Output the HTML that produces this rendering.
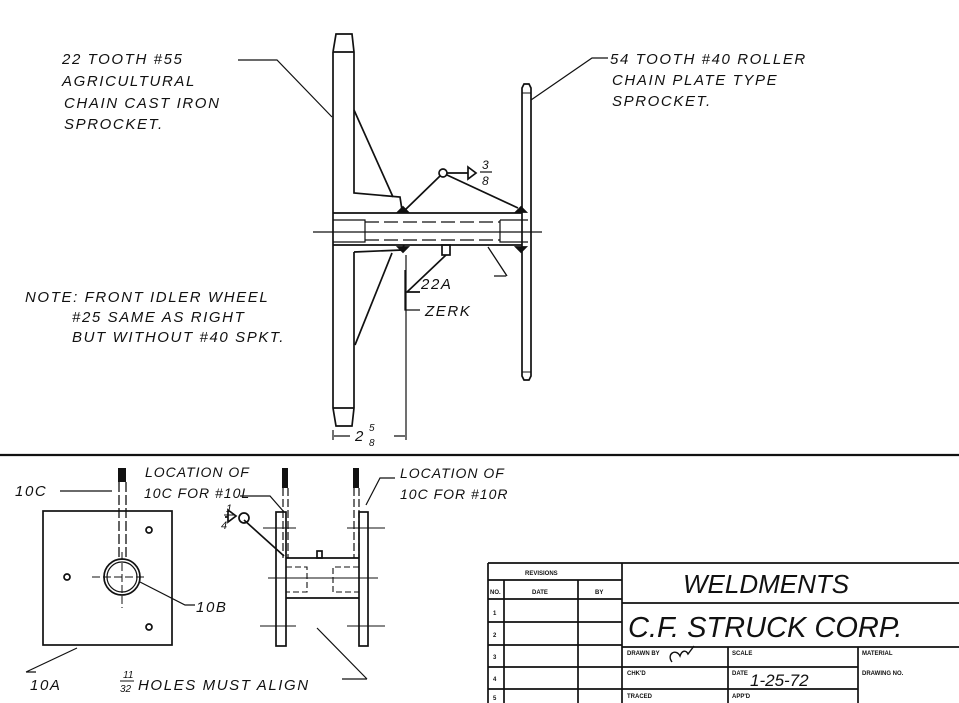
<!DOCTYPE html>
<html><head><meta charset="utf-8"><style>
html,body{margin:0;padding:0;background:#fff;}
svg{display:block;}
text{font-family:"Liberation Sans",sans-serif;font-style:italic;fill:#111;stroke:none;}
.t{font-size:15px;letter-spacing:1.6px;}
.u{font-size:14px;letter-spacing:1px;}
.s{font-size:6px;font-style:normal;font-weight:bold;}
</style></head><body>
<svg width="959" height="703" viewBox="0 0 959 703" xmlns="http://www.w3.org/2000/svg" stroke="#111" fill="none" stroke-width="1.7">
<path d="M333 52 L336 34 L352 34 L354 52 L354 110 M333 52 L333 408 L336 426 L352 426 L354 408 L354 252"/>
<path d="M333 52 H354 M333 408 H354"/>
<path d="M354 110 L354 193 L400 197 L402 210"/>
<path d="M354 110 L393 197"/>
<path d="M354 252 L402 250 L404 245"/>
<path d="M355 345 L392 253"/>
<path d="M333 213 H522 M333 245 H522"/>
<path d="M333 220 H365 V242 H333" stroke-width="1.2"/>
<path d="M500 220 H528 M500 220 V242 H528" stroke-width="1.2"/>
<path d="M365 222 H500 M365 240 H500" stroke-dasharray="14 5" stroke-width="1.2"/>
<path d="M313 232 H542" stroke-width="1.2"/>
<path d="M522 88 L524 84 L529 84 L531 88 V376 L529 380 L524 380 L522 376 Z"/>
<path d="M522 93 H531 M522 372 H531" stroke-width="1"/>
<circle cx="443" cy="173" r="4"/>
<path d="M440 176 L405 210 M447 175 L518 208 M447 173 H468 M468 167 L476 173 L468 179 Z"/>
<path d="M398 212 l5 -5 l5 5 z M516 212 l5 -5 l5 5 z M398 247 l5 5 l5 -5z M516 247 l5 5 l5 -5z" fill="#111"/>
<text x="482" y="169" style="font-size:12px">3</text><path d="M480 172 H492" stroke-width="1.2"/><text x="482" y="185" style="font-size:12px">8</text>
<rect x="442" y="245" width="8" height="10"/>
<path d="M446 255 L407 292 L420 292"/>
<path d="M488 247 L507 276 M494 276 H506" stroke-width="1.3"/>
<text class="t" x="421" y="289">22A</text>
<text class="t" x="425" y="316">ZERK</text>
<path d="M405 270 L405 310 L420 310" stroke-width="1.3"/>
<path d="M406 255 V440 M333 430 V440 M334 436 H350 M394 436 H405" stroke-width="1.2"/>
<text x="355" y="441" style="font-size:15px">2</text><text x="369" y="431" style="font-size:10px">5</text><text x="369" y="446" style="font-size:10px">8</text>
<path d="M238 60 H277 L332 117 M608 58 H592 L531 100" stroke-width="1.2"/>
<text class="t" x="62" y="64">22 TOOTH #55</text>
<text class="t" x="62" y="86">AGRICULTURAL</text>
<text class="t" x="64" y="108">CHAIN CAST IRON</text>
<text class="t" x="64" y="129">SPROCKET.</text>
<text class="t" x="610" y="64">54 TOOTH #40 ROLLER</text>
<text class="t" x="612" y="85">CHAIN PLATE TYPE</text>
<text class="t" x="612" y="106">SPROCKET.</text>
<text class="t" x="25" y="302">NOTE: FRONT IDLER WHEEL</text>
<text class="t" x="72" y="322">#25 SAME AS RIGHT</text>
<text class="t" x="72" y="342">BUT WITHOUT #40 SPKT.</text>
<path d="M0 455 H959" stroke-width="2.2"/>
<rect x="43" y="511" width="129" height="134"/>
<rect x="118" y="468" width="8" height="14" fill="#111" stroke="none"/>
<path d="M119 482 V560 M126 482 V560" stroke-width="1.3" stroke-dasharray="10 3"/>
<circle cx="122" cy="577" r="18"/><circle cx="122" cy="577" r="15" stroke-width="1.2"/>
<path d="M92 577 H146 M122 552 V608" stroke-dasharray="8 3" stroke-width="1"/>
<circle cx="67" cy="577" r="3"/><circle cx="149" cy="530" r="3"/><circle cx="149" cy="627" r="3"/>
<path d="M60 491 H112 M140 582 L185 605 H195 M26 672 L77 648 M26 672 H36" stroke-width="1.2"/>
<text class="t" x="15" y="496">10C</text>
<text class="t" x="196" y="612">10B</text>
<text class="t" x="30" y="690">10A</text>
<rect x="276" y="512" width="10" height="134"/><rect x="359" y="512" width="9" height="134"/>
<rect x="282" y="468" width="6" height="20" fill="#111" stroke="none"/><rect x="353" y="468" width="6" height="20" fill="#111" stroke="none"/>
<path d="M283 488 V558 M288 488 V558 M354 488 V558 M359 488 V558" stroke-dasharray="8 3" stroke-width="1.2"/>
<path d="M286 558 H359 M286 598 H359"/>
<path d="M286 567 H307 V592 H286 M359 567 H333 V592 H359" stroke-dasharray="6 3" stroke-width="1.1"/>
<path d="M263 528 H296 M347 528 H385 M268 578 H378 M260 626 H296 M347 626 H385" stroke-width="1"/>
<rect x="317" y="551" width="5" height="7"/>
<path d="M244 520 L284 556 M225 517 H228 M228 510 L236 516 L228 522 Z"/>
<circle cx="244" cy="518" r="5"/>
<text x="226" y="512" style="font-size:11px">1</text><path d="M224 515 H234" stroke-width="1"/><text x="221" y="529" style="font-size:11px">4</text>
<path d="M240 496 H270 L284 512 M395 478 H380 L366 505 M317 628 L367 679 M342 679 H367" stroke-width="1.2"/>
<text class="u" x="145" y="477">LOCATION OF</text>
<text class="u" x="144" y="498">10C FOR #10L</text>
<text class="u" x="400" y="478">LOCATION OF</text>
<text class="u" x="400" y="499">10C FOR #10R</text>
<text class="t" x="138" y="690">HOLES MUST ALIGN</text>
<text x="123" y="678" style="font-size:10px">11</text><path d="M120 681 H134" stroke-width="1"/><text x="120" y="692" style="font-size:10px">32</text>
<g stroke-width="1.7">
<path d="M488 563 H959 M488 563 V703 M622 563 V703 M488 580 H622 M488 599 H622 M488 622 H622 M488 645 H622 M488 667 H622 M488 689 H622 M504 580 V703 M578 580 V703"/>
<path d="M622 603 H959 M622 647 H959 M622 667 H858 M622 689 H858 M728 647 V703 M858 647 V703"/>
</g>
<text class="s" x="525" y="575">REVISIONS</text>
<text class="s" x="490" y="594">NO.</text><text class="s" x="532" y="594">DATE</text><text class="s" x="595" y="594">BY</text>
<text class="s" x="493" y="615">1</text><text class="s" x="493" y="637">2</text><text class="s" x="493" y="659">3</text><text class="s" x="493" y="681">4</text><text class="s" x="493" y="700">5</text>
<text x="683" y="593" style="font-size:26px">WELDMENTS</text>
<text x="628" y="637" style="font-size:29px">C.F. STRUCK CORP.</text>
<text class="s" x="627" y="655">DRAWN BY</text>
<path d="M672 662 c-6 -8 4 -14 8 -6 c2 -6 6 -6 8 -2 l6 -8" stroke-width="1.4"/>
<text class="s" x="732" y="655">SCALE</text>
<text class="s" x="862" y="655">MATERIAL</text>
<text class="s" x="627" y="675">CHK'D</text>
<text class="s" x="732" y="675">DATE</text>
<text x="750" y="686" style="font-size:17px">1-25-72</text>
<text class="s" x="862" y="675">DRAWING NO.</text>
<text class="s" x="627" y="698">TRACED</text>
<text class="s" x="732" y="698">APP'D</text>
</svg>
</body></html>
